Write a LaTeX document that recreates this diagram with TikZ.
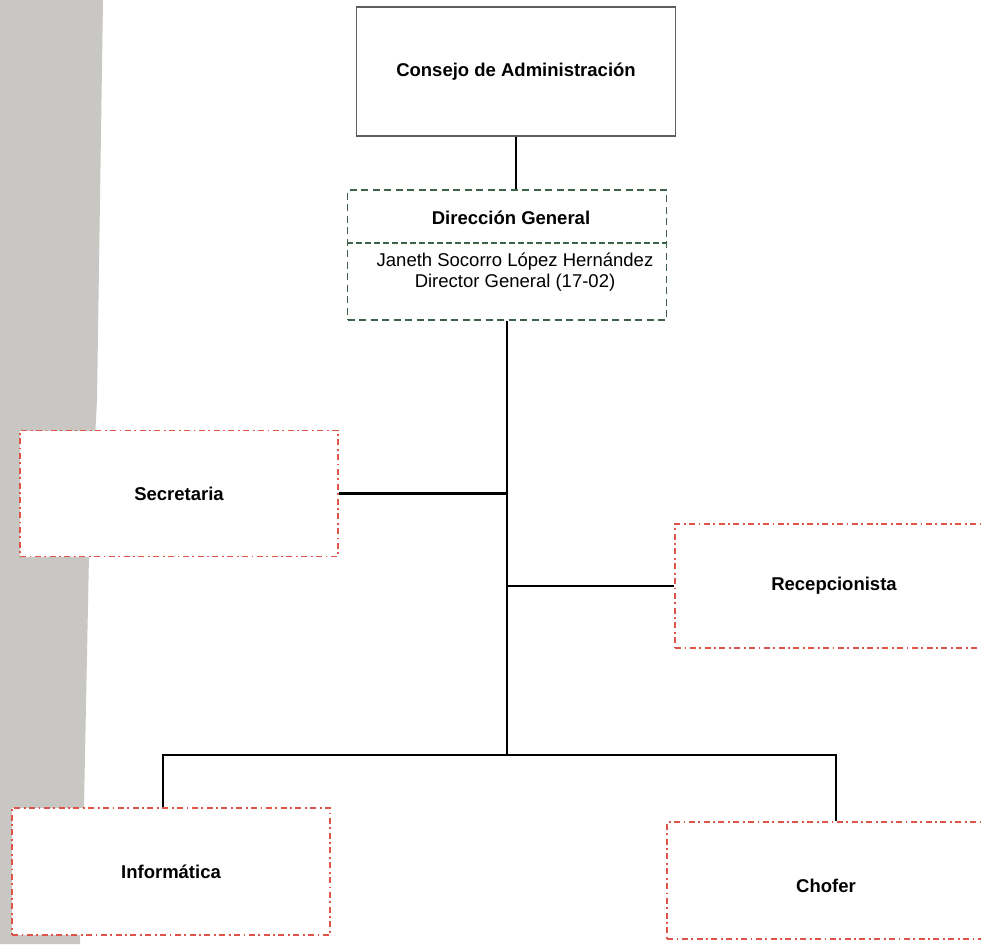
\documentclass[tikz,border=0pt]{standalone}
\usepackage{fontspec}
\setmainfont{Liberation Sans}
\definecolor{scangray}{RGB}{201,199,195}
\definecolor{boxred}{RGB}{222,84,72}
\definecolor{boxgreen}{RGB}{62,98,72}
\definecolor{consgray}{RGB}{95,95,95}
\begin{document}
\begin{tikzpicture}[x=1pt,y=-1pt,
  every node/.style={font=\fontsize{18.5}{21}\selectfont},
  boldtext/.style={font=\fontsize{18.5}{21}\selectfont\bfseries},
  conbox/.style={draw=consgray,line width=1.1pt,minimum width=319pt,minimum height=129pt,inner sep=0pt,boldtext},
  redbox/.style={draw=boxred,line width=1.8pt,dash pattern=on 6pt off 3.5pt on 1.8pt off 3.5pt,fill=white,minimum width=318pt,minimum height=126pt,inner sep=0pt,boldtext},
  greenbox/.style={draw=boxgreen,line width=1.6pt,dash pattern=on 7pt off 4.5pt,minimum width=319pt,minimum height=130pt,inner sep=0pt},
  greenline/.style={draw=boxgreen,line width=1.3pt,dash pattern=on 6pt off 3pt},
  link/.style={draw=black,line width=2.3pt}]
\useasboundingbox (0,0) rectangle (981,944);
\clip (0,0) rectangle (981,944);
\fill[white] (0,0) rectangle (981,944);
\fill[scangray] (0,0) -- (103,0) -- (97,400) -- (89,555) -- (84,805) -- (80,944) -- (0,944) -- cycle;

% nodes
\node[conbox] (cons) at (516,71.5) {Consejo de Administración};
\node[greenbox] (dg) at (507,255) {};
\draw[greenline] (dg.west |- 0,243) -- (dg.east |- 0,243);
\node[boldtext] (dgt) at (511,218) {Dirección General};
\node[align=center] (dgb) at (515,272) {Janeth Socorro López Hernández\\Director General (17-02)};

\node[redbox] (sec) at (179,493.5) {Secretaria};
\node[redbox,minimum height=124pt] (rec) at (834,586) {Recepcionista};
\node[redbox,minimum height=127pt] (inf) at (171,871.5) {Informática};
\node[redbox,minimum height=117pt] (cho) at (826,880.5) {};
\node[boldtext] (chot) at (826,886) {Chofer};

% connectors
\coordinate (bl) at (163,755);
\coordinate (br) at (836,755);
\draw[link] (cons.south) -- (cons.south |- dg.north);
\draw[link] (dg.south) -- (dg.south |- bl);
\draw[link] (sec.east) -- (sec.east -| dg.south);
\draw[link] (rec.west) -- (rec.west -| dg.south);
\draw[link] (bl |- inf.north) -- (bl) -- (br) -- (br |- cho.north);
\end{tikzpicture}
\end{document}
